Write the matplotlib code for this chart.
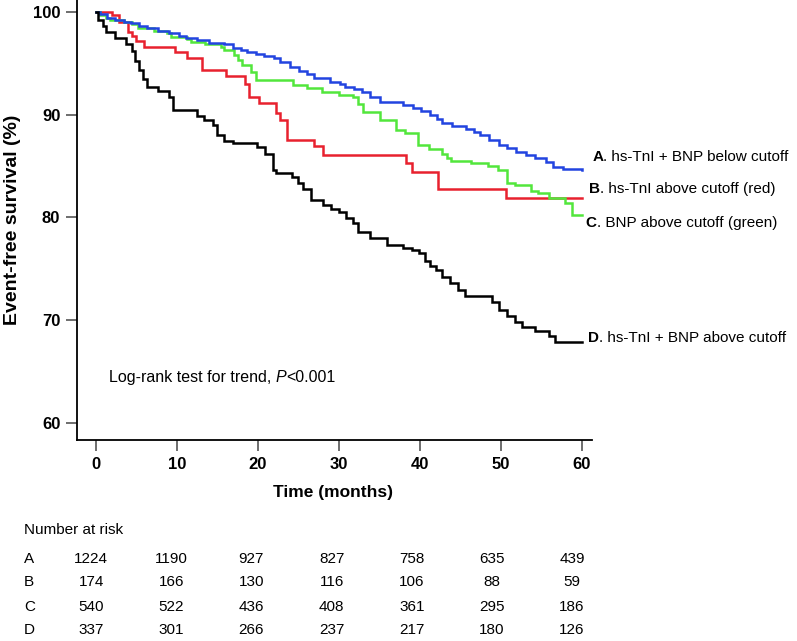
import matplotlib
matplotlib.use("Agg")
import matplotlib.pyplot as plt
from matplotlib import transforms

plt.rcParams['font.family'] = ['Liberation Sans', 'DejaVu Sans']

# ---- data ----
t_A = [0, 0.5, 1.4, 2.4, 3.4, 4.3, 5.3, 6.3, 7.7, 9.0, 10.2, 11.1, 12.5, 14.0, 15.8, 16.9,
       17.9, 18.7, 19.8, 20.8, 22.0, 22.7, 24.0, 25.1, 26.1, 26.9, 28.9, 30.1, 30.8, 31.9,
       32.9, 33.8, 35.1, 37.9, 39.1, 40.1, 41.2, 42.1, 42.8, 44.0, 45.7, 46.7, 47.4, 48.5,
       49.8, 50.8, 51.9, 53.1, 54.2, 55.6, 56.4, 57.7, 60.0]
s_A = [100, 99.8, 99.4, 99.2, 99.0, 98.9, 98.6, 98.4, 98.1, 97.9, 97.6, 97.4, 97.25, 97.0,
       96.9, 96.5, 96.3, 96.1, 95.9, 95.7, 95.5, 95.1, 94.6, 94.2, 93.9, 93.6, 93.2, 93.0,
       92.7, 92.5, 92.2, 91.7, 91.25, 90.9, 90.6, 90.3, 90.0, 89.6, 89.2, 88.9, 88.6, 88.3,
       88.0, 87.5, 87.0, 86.7, 86.4, 86.1, 85.8, 85.4, 84.9, 84.7, 84.6]

t_B = [0, 2.0, 2.8, 4.0, 4.4, 5.0, 5.9, 9.8, 11.2, 13.1, 16.0, 18.4, 18.9, 20.1, 22.2,
       22.7, 23.6, 26.9, 28.1, 38.3, 39.0, 42.2, 50.7, 60.0]
s_B = [100, 99.7, 99.0, 98.0, 97.6, 97.2, 96.6, 96.1, 95.5, 94.3, 93.7, 93.0, 91.7, 91.1,
       90.1, 89.5, 87.5, 86.9, 86.05, 85.3, 84.4, 82.8, 81.9, 81.9]

t_C = [0, 0.5, 1.2, 1.7, 3.4, 4.5, 5.2, 7.2, 8.8, 9.3, 11.3, 11.7, 13.5, 15.5, 15.8, 17.0,
       17.6, 18.0, 19.2, 19.8, 24.3, 26.1, 27.9, 30.0, 31.8, 32.4, 33.0, 35.1, 37.1, 38.2,
       39.8, 41.1, 42.8, 43.4, 43.8, 46.3, 48.4, 49.6, 50.8, 51.7, 53.7, 54.6, 56.0, 57.9,
       58.8, 60.0]
s_C = [100, 99.7, 99.4, 99.2, 99.0, 98.8, 98.4, 98.1, 97.9, 97.5, 97.3, 97.1, 96.9, 96.6,
       96.3, 95.8, 95.3, 94.8, 94.1, 93.4, 92.9, 92.6, 92.2, 91.9, 91.7, 91.0, 90.2, 89.5,
       88.5, 88.2, 87.0, 86.6, 86.2, 85.75, 85.5, 85.3, 85.0, 84.6, 83.3, 83.1, 82.6, 82.4,
       81.9, 81.4, 80.2, 80.2]

t_D = [0, 0.3, 0.9, 1.2, 2.4, 3.7, 4.4, 4.8, 5.3, 5.8, 6.3, 7.7, 9.0, 9.5, 12.5, 13.3,
       14.5, 14.9, 15.8, 16.9, 19.9, 20.9, 21.9, 22.2, 24.2, 25.0, 25.6, 26.6, 28.0, 29.0,
       30.0, 30.9, 31.7, 32.4, 33.8, 36.0, 37.9, 39.0, 39.9, 40.6, 41.3, 42.0, 42.8, 43.7,
       44.7, 45.6, 48.9, 49.8, 50.8, 51.7, 52.6, 54.2, 55.9, 56.7, 60.0]
s_D = [100, 99.2, 98.6, 98.0, 97.4, 96.9, 96.2, 95.2, 94.3, 93.5, 92.7, 92.3, 91.7, 90.4,
       89.9, 89.5, 89.0, 88.0, 87.4, 87.2, 86.8, 86.2, 84.6, 84.3, 83.9, 83.3, 82.8, 81.7,
       81.2, 80.8, 80.5, 79.9, 79.4, 78.6, 78.0, 77.3, 77.0, 76.8, 76.5, 75.8, 75.3, 74.9,
       74.2, 73.6, 72.9, 72.3, 71.8, 71.0, 70.4, 69.8, 69.3, 68.9, 68.5, 67.9, 67.9]

group_letters = ['A', 'B', 'C', 'D']
group_texts = ['. hs-TnI + BNP below cutoff', '. hs-TnI above cutoff (red)',
               '. BNP above cutoff (green)', '. hs-TnI + BNP above cutoff']
risk_times = [0, 10, 20, 30, 40, 50, 60]
risk_A = [1224, 1190, 927, 827, 758, 635, 439]
risk_B = [174, 166, 130, 116, 106, 88, 59]
risk_C = [540, 522, 436, 408, 361, 295, 186]
risk_D = [337, 301, 266, 237, 217, 180, 126]

x_ticks = [0, 10, 20, 30, 40, 50, 60]
y_ticks = [60, 70, 80, 90, 100]

# ---- figure ----
W, H = 797, 641
fig = plt.figure(figsize=(W / 100, H / 100), dpi=100)
ax_left, ax_right, ax_top, ax_bottom = 77, 592, 0, 440
ax = fig.add_axes([ax_left / W, 1 - ax_bottom / H, (ax_right - ax_left) / W,
                   (ax_bottom - ax_top) / H])
px_per_month = 8.095
x_left = (ax_left - 96) / px_per_month
x_right = (ax_right - 96) / px_per_month

colors = {'A': '#2244e0', 'B': '#e8212e', 'C': '#52e63c', 'D': '#000000'}
series = {'A': (t_A, s_A), 'B': (t_B, s_B), 'C': (t_C, s_C), 'D': (t_D, s_D)}
for key in ['B', 'C', 'A', 'D']:
    t, s = series[key]
    ax.step(t, s, where='post', color=colors[key], lw=1.8, clip_on=False,
            solid_joinstyle='miter')

ax.set_xlim(x_left, x_right)
ax.set_ylim(58.34, 101.14)
ax.spines['top'].set_visible(False)
ax.spines['right'].set_visible(False)
for sp in ['left', 'bottom']:
    ax.spines[sp].set_linewidth(1.3)
ax.set_xticks(x_ticks)
ax.set_yticks(y_ticks)
ax.tick_params(direction='out', length=8, width=1.2, color='#555555', pad=4,
               labelsize=12)
for lab in ax.get_xticklabels() + ax.get_yticklabels():
    lab.set_fontweight('bold')

ax.set_xlabel('Time (months)', fontsize=12.5, fontweight='bold')
ax.xaxis.set_label_coords((333 - ax_left) / (ax_right - ax_left),
                          -(492 - ax_bottom) / (ax_bottom - ax_top))
ax.set_ylabel('Event-free survival (%)', fontsize=14, fontweight='bold')
ax.yaxis.set_label_coords((12.5 - ax_left) / (ax_right - ax_left), 0.5)
ax.xaxis.label.set_va('center')
ax.yaxis.label.set_va('center')

# log-rank text
fs = 11.5
t1 = ax.text(1.6, 64.4, 'Log-rank test for trend, ', fontsize=fs, va='center', ha='left')
t2 = ax.annotate('P', xy=(1, 0), xycoords=t1, va='bottom', ha='left', fontsize=fs,
                 style='italic')
ax.annotate('<0.001', xy=(1, 0), xycoords=t2, va='bottom', ha='left', fontsize=fs)

# group labels on the right
fs_lab = 11
label_pos = [(61.3, 85.9), (60.9, 82.75), (60.5, 79.4), (60.8, 68.3)]
for (lx, ly), letter, txt in zip(label_pos, group_letters, group_texts):
    a = ax.text(lx, ly, letter, fontsize=fs_lab, fontweight='bold', va='center',
                ha='left', clip_on=False)
    ax.annotate(txt, xy=(1, 0), xycoords=a, va='bottom', ha='left', fontsize=fs_lab,
                annotation_clip=False)

# number at risk table
trans = transforms.blended_transform_factory(ax.transData, fig.transFigure)
fig.text(24 / W, 1 - 530 / H, 'Number at risk', fontsize=11, va='center', ha='left')
rows = [risk_A, risk_B, risk_C, risk_D]
row_y = [559, 582, 607, 630]
for letter, vals, ry in zip(group_letters, rows, row_y):
    fig.text(24 / W, 1 - ry / H, letter, fontsize=11, va='center', ha='left')
    for tm, v in zip(risk_times, vals):
        ax.text(tm * 0.99 - 0.6, 1 - ry / H, str(v), transform=trans, fontsize=11,
                va='center', ha='center', clip_on=False)

fig.savefig('out.png', dpi=100)
